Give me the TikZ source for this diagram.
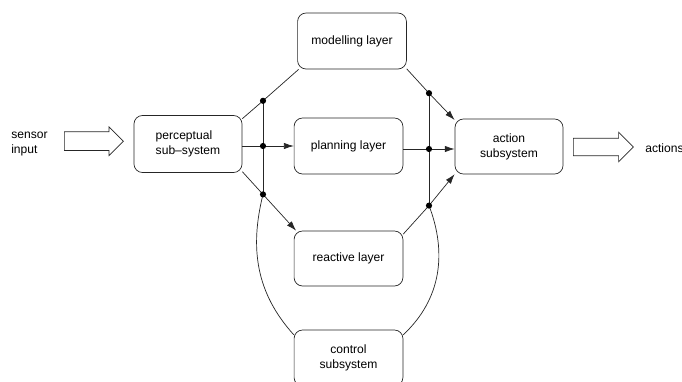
\documentclass[tikz,border=0pt]{standalone}
\usepackage{fontspec}
\setmainfont{Liberation Sans}
\usetikzlibrary{arrows.meta,shapes.arrows}

\begin{document}
\begin{tikzpicture}[
    box/.style={draw=black!85, line width=0.5pt, rounded corners=6pt, minimum width=2.72cm, minimum height=1.4cm, align=center, inner sep=0pt, font=\fontsize{8.6}{10.7}\selectfont},
    arrow/.style={-{Latex[length=7pt, width=4.5pt]}, line width=0.5pt, black!85},
    link/.style={line width=0.5pt, black!85},
    hollow/.style={draw=black!85, line width=0.5pt, single arrow, single arrow head extend=0.125cm, inner xsep=0pt, inner ysep=0.225cm, minimum height=1.475cm},
    label/.style={font=\fontsize{8.6}{10.7}\selectfont, inner sep=0pt}
]
\useasboundingbox (0,0) rectangle (17.05,-9.55);

% === Input side ===
\node[label, align=left, anchor=west] (sensor) at (0.275,-3.59) {sensor\\input};
\node[hollow] (inarrow) at (2.23,-3.53) {};
\node[box, align=left, minimum width=2.7cm, minimum height=1.425cm] (perc) at (4.7,-3.6) {perceptual\\sub--system};

% === Layers ===
\node[box] (model) at (8.8,-1.025) {modelling layer};
\node[box] (plan) at (8.7125,-3.65) {planning layer};
\node[box, minimum height=1.375cm] (reac) at (8.7125,-6.4625) {reactive layer};
\node[box] (ctrl) at (8.7125,-8.95) {control\\subsystem};

% === Output side ===
\node[box, minimum width=2.7cm, minimum height=1.375cm] (act) at (12.725,-3.6625) {action\\subsystem};
\node[hollow, inner ysep=0.21cm, minimum height=1.5cm, single arrow head extend=0.15cm] (outarrow) at (14.975,-3.675) {};
\node[label, anchor=west] (actions) at (16.125,-3.7) {actions};

% Branch points
\coordinate (dA) at (6.575,-2.52);
\coordinate (dB) at (6.575,-3.65);
\coordinate (dC) at (6.575,-4.86);
\coordinate (dD) at (10.725,-2.33);
\coordinate (dE) at (10.725,-3.725);
\coordinate (dF) at (10.725,-5.14);

% Fan out from perception
\draw[link] (perc.25) -- (dA) -- (model.208);
\draw[link] (perc.east |- dB) -- (dB);
\draw[arrow] (dB) -- (plan.west |- dB);
\draw[link] (perc.333) -- (dC);
\draw[arrow] (dC) -- (reac.152);
\draw[link] (dA) -- (dC);

% Fan in to action
\draw[link] (model.333) -- (dD);
\draw[arrow] (dD) -- (act.154);
\draw[link] (plan.east |- dE) -- (dE);
\draw[arrow] (dE) -- (act.west |- dE);
\draw[link] (reac.24) -- (dF);
\draw[arrow] (dF) -- (act.207);
\draw[link] (dD) -- (dF);

% Control loop
\draw[link] (dC) to[out=-104, in=132] (ctrl.157);
\draw[link] (dF) to[out=-69, in=43] (ctrl.23);

% Dots
\fill[black] (dA) circle (2.2pt);
\fill[black] (dB) circle (2.2pt);
\fill[black] (dC) circle (2.2pt);
\fill[black] (dD) circle (2.2pt);
\fill[black] (dE) circle (2.2pt);
\fill[black] (dF) circle (2.2pt);

\end{tikzpicture}
\end{document}
